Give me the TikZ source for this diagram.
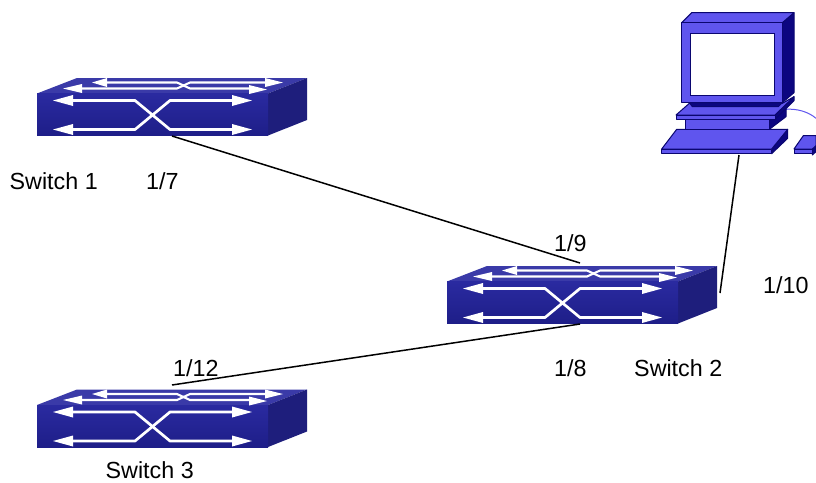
\documentclass[tikz,border=0pt]{standalone}
\usepackage{fontspec}
\setmainfont{Liberation Sans}
\definecolor{swfront}{HTML}{2A2AA0}
\definecolor{swfrontd}{HTML}{1E1E88}
\definecolor{swtop}{HTML}{3A3AA8}
\definecolor{swside}{HTML}{1E1E7C}
\definecolor{pcblue}{HTML}{5F55EE}
\definecolor{pcdark}{HTML}{0C0680}
\definecolor{pcline}{HTML}{0A0670}
\tikzset{
  lbl/.style={inner sep=0pt,font=\fontsize{23.3}{25}\selectfont,text=black},
  conn/.style={draw=black,line width=1.5pt},
  flow/.style={draw=white,line width=2.1pt,line join=round},
  flowf/.style={draw=white,line width=2.7pt,line join=round},
  tip/.style={fill=white,draw=none},
  pcf/.style={fill=pcblue,draw=pcline,line width=1pt,line join=round},
  pcd/.style={fill=pcdark,draw=pcline,line width=1pt,line join=round},
  switchpic/.pic={
    \fill[swtop] (0,0) -- (40,-15.5) -- (270,-15.5) -- (231,0) -- cycle;
    \fill[swside] (231,0) -- (270,-15.5) -- (270,26.5) -- (231,42) -- cycle;
    \shade[top color=swfront,bottom color=swfrontd] (0,0) rectangle (231,42);
    % top face arrows
    \path[flow] (62,-11) -- (140,-11) -- (153,-5) -- (220,-5);
    \path[flow] (36,-5) -- (140,-5) -- (153,-11) -- (236,-11);
    \fill[tip] (55,-11) -- (70,-15.5) -- (70,-6.5) -- cycle;
    \fill[tip] (26,-5) -- (45,-9.5) -- (45,-0.5) -- cycle;
    \fill[tip] (246,-11) -- (228,-15.5) -- (228,-6.5) -- cycle;
    \fill[tip] (230,-4) -- (212,-8.5) -- (212,0.5) -- cycle;
    % front arrows
    \path[flowf] (24,7) -- (98,7) -- (133,36) -- (205,36);
    \path[flowf] (24,36) -- (98,36) -- (133,7) -- (205,7);
    \fill[tip] (16,7) -- (36,1.5) -- (36,12.5) -- cycle;
    \fill[tip] (16,36) -- (36,30.5) -- (36,41.5) -- cycle;
    \fill[tip] (215,7) -- (195,1.5) -- (195,12.5) -- cycle;
    \fill[tip] (215,36) -- (195,30.5) -- (195,41.5) -- cycle;
  }
}
\begin{document}
\begin{tikzpicture}[x=1pt,y=-1pt]
\useasboundingbox (0,0) rectangle (816,482);
\fill[white] (0,0) rectangle (816,482);
% switches
\pic at (37,93.5) {switchpic};
\pic at (447,281.5) {switchpic};
\pic at (37,405) {switchpic};
% computer (coordinates in thirds of a pixel)
\begin{scope}[shift={(650,0)},x=0.33333pt,y=-0.33333pt]
\clip (0,0) rectangle (498,510);
\path[draw=pcblue,line width=1pt] (405,328) .. controls (440,325) and (475,335) .. (498,355);
% keyboard
\path[pcd] (365,447) -- (413,388) -- (413,415) -- (365,461) -- cycle;
\path[pcf] (35,447) -- (80,388) -- (413,388) -- (365,447) -- cycle;
\path[pcf] (35,447) rectangle (365,461);
% neck
\path[pcd] (358,358) -- (408,322) -- (408,350) -- (358,388) -- cycle;
\path[pcf] (106,358) rectangle (358,388);
% base
\path[pcd] (375,345) -- (432,290) -- (432,302) -- (375,358) -- cycle;
\path[pcf] (78,345) -- (118,310) -- (397,310) -- (432,290) -- (375,345) -- cycle;
\path[pcf] (78,345) rectangle (375,358);
\path[pcd] (118,308) -- (127,320) -- (385,320) -- (397,308) -- cycle;
% monitor
\path[pcd] (397,68) -- (432,38) -- (432,278) -- (397,308) -- cycle;
\path[pcf] (95,68) -- (125,38) -- (432,38) -- (397,68) -- cycle;
\path[pcf] (95,68) rectangle (397,308);
\path[fill=white,draw=pcline,line width=1pt] (122,100) rectangle (372,285);
% mouse
\path[pcd] (487,447) -- (498,437) -- (498,455) -- (487,465) -- cycle;
\path[pcf] (432,447) -- (460,407) -- (498,407) -- (498,437) -- (487,447) -- cycle;
\path[pcf] (432,447) rectangle (487,461);
\end{scope}
% connector anchors
\coordinate (sw1) at (172,136);
\coordinate (sw2a) at (580,263);
\coordinate (sw2b) at (580,324);
\coordinate (sw2c) at (720,293);
\coordinate (sw3) at (172,385);
\coordinate (pc) at (739,155);
\draw[conn] (sw1) -- (sw2a);
\draw[conn] (sw2b) -- (sw3);
\draw[conn] (pc) -- (sw2c);
% labels
\node[lbl,anchor=base west] (l1) at (9.5,189) {Switch 1};
\node[lbl,anchor=base west] (l2) at (146,189) {1/7};
\node[lbl,anchor=base west] (l3) at (554,251) {1/9};
\node[lbl,anchor=base west] (l4) at (763,293) {1/10};
\node[lbl,anchor=base west] (l5) at (554,376) {1/8};
\node[lbl,anchor=base west] (l6) at (634,376) {Switch 2};
\node[lbl,anchor=base west] (l7) at (173,376) {1/12};
\node[lbl,anchor=base west] (l8) at (105.5,478.5) {Switch 3};
\end{tikzpicture}
\end{document}
